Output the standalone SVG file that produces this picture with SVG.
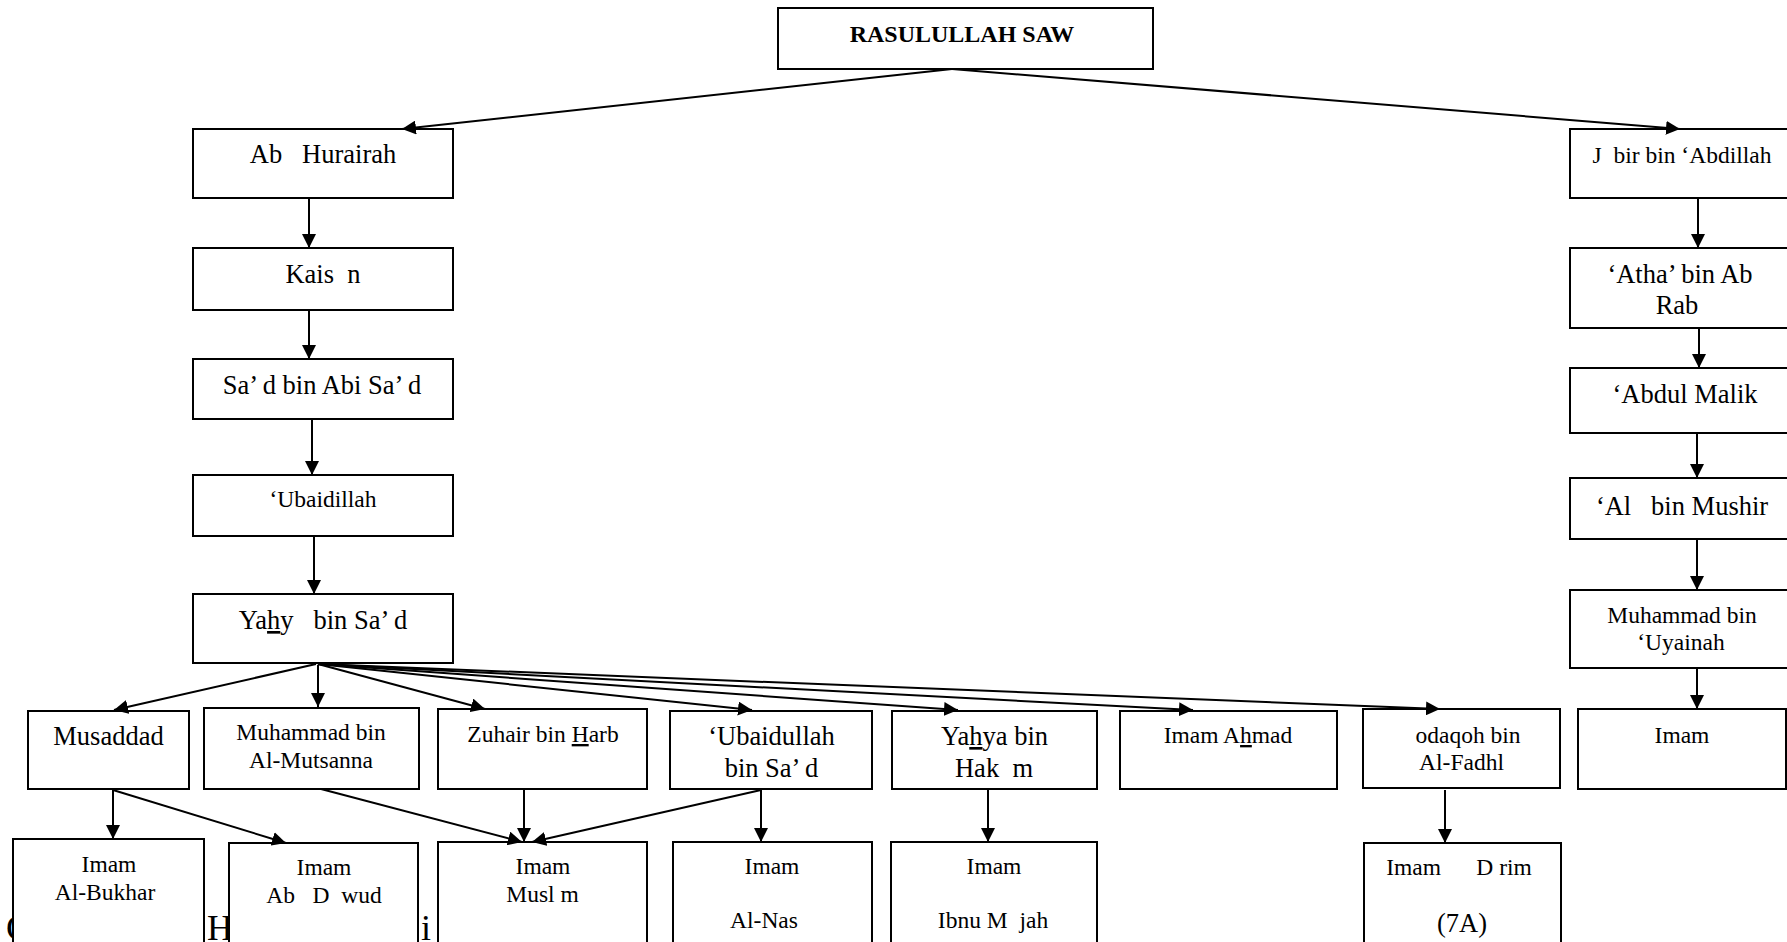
<svg xmlns="http://www.w3.org/2000/svg" width="1787" height="942" viewBox="0 0 1787 942" xml:space="preserve">
<defs>
<marker id="ah" viewBox="0 0 14 14" refX="14" refY="7" markerWidth="14" markerHeight="14" orient="auto" markerUnits="userSpaceOnUse"><path d="M0,0 L14,7 L0,14 z" fill="#000"/></marker>
</defs>
<style>
rect{fill:#fff;stroke:#000;stroke-width:2}
text{font-family:"Liberation Serif","Times New Roman",serif;fill:#000;text-anchor:middle;white-space:pre}
.L{font-size:26.5px}
.S{font-size:23.5px}
.B{font-size:24px;font-weight:bold}
.cap{font-size:36px;text-anchor:start}
.u{text-decoration:underline}
#connectors line{stroke:#000;stroke-width:2;marker-end:url(#ah)}
</style>
<rect x="-10" y="-10" width="1810" height="970" style="stroke:none;fill:#fff"/>
<g id="caption">
<text class="cap" x="6" y="940">G</text>
<text class="cap" x="207" y="940">H</text>
<text class="cap" x="421" y="940">i</text>
</g>
<g id="n-rasulullah"><rect x="778" y="8" width="375" height="61"/><text class="B" x="962" y="42">RASULULLAH SAW</text></g>
<g id="n-abuhurairah"><rect x="193" y="129" width="260" height="69"/><text class="L" x="323" y="163">Ab   Hurairah</text></g>
<g id="n-kaisan"><rect x="193" y="248" width="260" height="62"/><text class="L" x="323" y="283">Kais  n</text></g>
<g id="n-said"><rect x="193" y="359" width="260" height="60"/><text class="L" x="322" y="394">Sa’ d bin Abi Sa’ d</text></g>
<g id="n-ubaidillah"><rect x="193" y="475" width="260" height="61"/><text class="S" x="323" y="507">‘Ubaidillah</text></g>
<g id="n-yahya"><rect x="193" y="594" width="260" height="69"/><text class="L" x="323" y="629">Ya<tspan class="u">h</tspan>y   bin Sa’ d</text></g>
<g id="n-musaddad"><rect x="28" y="711" width="161" height="78"/><text class="L" x="108.5" y="745">Musaddad</text></g>
<g id="n-mutsanna"><rect x="204" y="708" width="215" height="81"/><text class="S" x="311" y="740">Muhammad bin</text><text class="S" x="311" y="768">Al-Mutsanna</text></g>
<g id="n-zuhair"><rect x="438" y="709" width="209" height="80"/><text class="S" x="543" y="742">Zuhair bin <tspan class="u">H</tspan>arb</text></g>
<g id="n-ubaidullah"><rect x="670" y="711" width="202" height="78"/><text class="L" x="771.5" y="745">‘Ubaidullah</text><text class="L" x="771.5" y="777">bin Sa’ d</text></g>
<g id="n-yahyahakim"><rect x="892" y="711" width="205" height="78"/><text class="L" x="994.5" y="745">Ya<tspan class="u">h</tspan>ya bin</text><text class="L" x="994" y="777">Hak  m</text></g>
<g id="n-ahmad"><rect x="1120" y="711" width="217" height="78"/><text class="S" x="1228" y="743">Imam A<tspan class="u">h</tspan>mad</text></g>
<g id="n-shodaqoh"><rect x="1363" y="709" width="197" height="79"/><text class="S" x="1468" y="743">odaqoh bin</text><text class="S" x="1461.5" y="770">Al-Fadhl</text></g>
<g id="n-jabir"><rect x="1570" y="129" width="226" height="69"/><text class="S" x="1682" y="163">J  bir bin ‘Abdillah</text></g>
<g id="n-atha"><rect x="1570" y="248" width="226" height="80"/><text class="L" x="1680" y="283">‘Atha’ bin Ab</text><text class="L" x="1677" y="314">Rab</text></g>
<g id="n-abdulmalik"><rect x="1570" y="368" width="226" height="65"/><text class="L" x="1685" y="403">‘Abdul Malik</text></g>
<g id="n-ali"><rect x="1570" y="478" width="226" height="61"/><text class="L" x="1682" y="515">‘Al   bin Mushir</text></g>
<g id="n-uyainah"><rect x="1570" y="590" width="226" height="78"/><text class="S" x="1682" y="623">Muhammad bin</text><text class="S" x="1681" y="650">‘Uyainah</text></g>
<g id="n-imam-right"><rect x="1578" y="709" width="208" height="80"/><text class="S" x="1682" y="743">Imam</text></g>
<g id="n-bukhari"><rect x="13" y="839" width="191" height="120"/><text class="S" x="109" y="872">Imam</text><text class="S" x="105" y="900">Al-Bukhar</text></g>
<g id="n-abudawud"><rect x="229" y="843" width="189" height="120"/><text class="S" x="324" y="875">Imam</text><text class="S" x="324" y="903">Ab   D  wud</text></g>
<g id="n-muslim"><rect x="438" y="842" width="209" height="120"/><text class="S" x="543" y="874">Imam</text><text class="S" x="542.5" y="902">Musl m</text></g>
<g id="n-nasai"><rect x="673" y="842" width="199" height="120"/><text class="S" x="772" y="874">Imam</text><text class="S" x="764" y="928">Al-Nas</text></g>
<g id="n-ibnumajah"><rect x="891" y="842" width="206" height="120"/><text class="S" x="994" y="874">Imam</text><text class="S" x="993" y="928">Ibnu M  jah</text></g>
<g id="n-darimi"><rect x="1364" y="843" width="197" height="120"/><text class="S" x="1459" y="875">Imam      D rim</text><text class="L" x="1462" y="932">(7A)</text></g>
<g id="connectors">
<line x1="952" y1="69" x2="402" y2="129"/>
<line x1="952" y1="69" x2="1680" y2="129"/>
<line x1="309" y1="198" x2="309" y2="248"/>
<line x1="309" y1="310" x2="309" y2="359"/>
<line x1="312" y1="419" x2="312" y2="475"/>
<line x1="314" y1="536" x2="314" y2="594"/>
<line x1="316" y1="664" x2="114" y2="710"/>
<line x1="318" y1="665" x2="318" y2="707"/>
<line x1="318" y1="664" x2="485" y2="709"/>
<line x1="318" y1="664" x2="752" y2="710"/>
<line x1="318" y1="664" x2="958" y2="710"/>
<line x1="318" y1="664" x2="1193" y2="710"/>
<line x1="318" y1="664" x2="1440" y2="709"/>
<line x1="1698" y1="198" x2="1698" y2="248"/>
<line x1="1699" y1="328" x2="1699" y2="368"/>
<line x1="1697" y1="433" x2="1697" y2="478"/>
<line x1="1697" y1="539" x2="1697" y2="590"/>
<line x1="1697" y1="668" x2="1697" y2="709"/>
<line x1="113" y1="790" x2="113" y2="839"/>
<line x1="113" y1="790" x2="286" y2="843"/>
<line x1="321" y1="789" x2="522" y2="842"/>
<line x1="524" y1="789" x2="524" y2="842"/>
<line x1="761" y1="790" x2="532" y2="842"/>
<line x1="761" y1="790" x2="761" y2="842"/>
<line x1="988" y1="789" x2="988" y2="842"/>
<line x1="1445" y1="790" x2="1445" y2="843"/>
</g>
</svg>
